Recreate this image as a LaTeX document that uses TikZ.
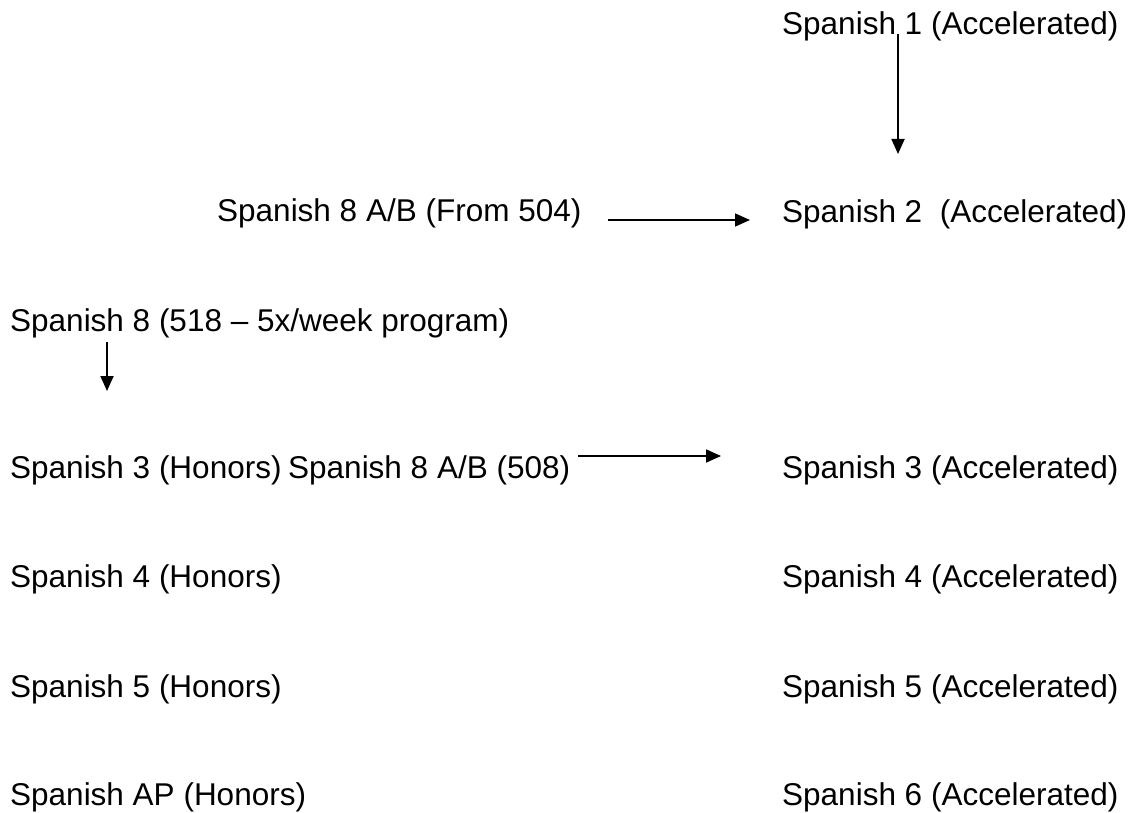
\documentclass[tikz,border=0pt]{standalone}
\usepackage{fontspec}
\setmainfont{Liberation Sans}
\usetikzlibrary{arrows.meta}
\begin{document}
\begin{tikzpicture}[x=1pt,y=-1pt,
  lbl/.style={anchor=base west,inner sep=0pt,font=\fontsize{31.5pt}{36pt}\selectfont},
  arr/.style={line width=1.8pt,-{Triangle[length=15pt,width=13pt]}}]
\useasboundingbox (0,0) rectangle (1133,813);
\node[lbl] (s1)  at (782,35)  {Spanish 1 (Accelerated)};
\node[lbl] (s2)  at (782,223) {Spanish 2\ \ (Accelerated)};
\node[lbl] (ab4) at (217,222) {Spanish 8 A/B (From 504)};
\node[lbl] (s8)  at (10,331)  {Spanish 8 (518 -- 5x/week program)};
\node[lbl] (h3)  at (10,478)  {Spanish 3 (Honors)};
\node[lbl] (ab8) at (288,478) {Spanish 8 A/B (508)};
\node[lbl] (a3)  at (782,478) {Spanish 3 (Accelerated)};
\node[lbl] (h4)  at (10,587)  {Spanish 4 (Honors)};
\node[lbl] (a4)  at (782,587) {Spanish 4 (Accelerated)};
\node[lbl] (h5)  at (10,697)  {Spanish 5 (Honors)};
\node[lbl] (a5)  at (782,697) {Spanish 5 (Accelerated)};
\node[lbl] (hap) at (10,805)  {Spanish AP (Honors)};
\node[lbl] (a6)  at (782,805) {Spanish 6 (Accelerated)};
\coordinate (c1s) at (898,34);
\coordinate (c1e) at (898,154);
\coordinate (c2s) at (608,220);
\coordinate (c2e) at (750,220);
\coordinate (c3s) at (107,342);
\coordinate (c3e) at (107,391);
\coordinate (c4s) at (578,456);
\coordinate (c4e) at (721,456);
\draw[arr] (c1s) -- (c1e);
\draw[arr] (c2s) -- (c2e);
\draw[arr] (c3s) -- (c3e);
\draw[arr] (c4s) -- (c4e);
\end{tikzpicture}
\end{document}
